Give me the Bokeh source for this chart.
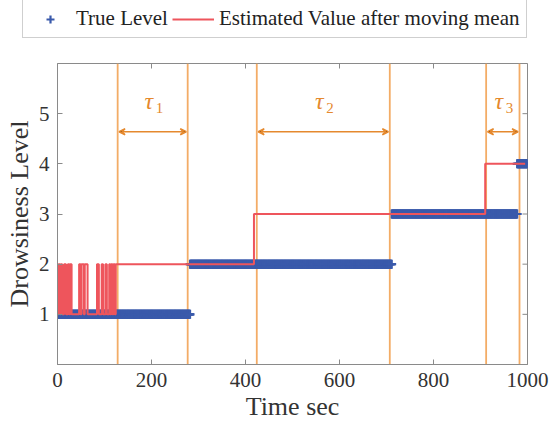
import numpy as np
from bokeh.plotting import figure
from bokeh.layouts import column
from bokeh.models import (Range1d, FixedTicker, Legend, LegendItem,
                          Arrow, VeeHead, ColumnDataSource)
from bokeh.core.properties import value
from bokeh.embed import file_html
from bokeh.resources import INLINE

# ---- data ----
true_start = [0, 282, 711, 978]
true_end = [282, 711, 978, 1000]
true_level = [1, 2, 3, 4]

red_times = [0, 2, 5, 7, 10, 14, 18, 22, 25, 27, 30, 46, 49, 51, 56, 58, 64,
             84, 88, 94, 97, 102, 105, 110, 112, 114, 117, 119, 122, 124,
             418, 910, 995]
red_values = [1, 2, 1, 2, 1, 2, 1, 2, 1, 2, 1, 2, 1, 2, 1, 2, 1,
              2, 1, 2, 1, 2, 1, 2, 1, 2, 1, 2, 1, 2,
              3, 4, 4]

vlines = [128, 277, 424, 707, 912, 983]
tau_start = [128, 424, 912]
tau_end = [277, 707, 983]
tau_names = ["1", "2", "3"]
arrow_y = 4.64
tau_label_y = 5.25

x_ticks = [0, 200, 400, 600, 800, 1000]
y_ticks = [1, 2, 3, 4, 5]
x_min, x_max = 0, 1000
y_min, y_max = 0, 6

series_names = ["True Level", "Estimated Value after moving mean"]

# ---- expand true level into per-second samples ----
t_true = []
v_true = []
for s, e, lv in zip(true_start, true_end, true_level):
    ts = np.arange(s, e + 1)
    t_true.extend(ts.tolist())
    v_true.extend([lv] * len(ts))

FONT = "Liberation Serif"
BLUE = "#3A5AAB"
RED = "#EE555C"
ORANGE_L = "#F3AC66"
ORANGE_D = "#E5892E"
GREY = "#8A8A8A"

TOP_H = 45

# ---------------- legend strip ----------------
lg = figure(width=549, height=TOP_H, output_backend="svg", toolbar_location=None,
            x_range=Range1d(0, 1), y_range=Range1d(0, 1),
            x_axis_type=None, y_axis_type=None,
            min_border=0, outline_line_color=None)
lg.frame_align = False
lg.grid.visible = False
# legend-only renderers (their single point lies outside the visible range)
d_blue = lg.scatter(x=[5], y=[5], marker="cross", size=9, line_width=2.2, line_color=BLUE)
d_red = lg.line(x=[5, 6], y=[5, 5], line_color=RED, line_width=2)
legend = Legend(items=[LegendItem(label=series_names[0], renderers=[d_blue]),
                       LegendItem(label=series_names[1], renderers=[d_red])],
                orientation="horizontal", location=(22, 7),
                label_text_font=FONT, label_text_font_size="21px",
                label_text_color="#222222",
                glyph_width=42, glyph_height=20, label_height=21,
                label_standoff=5, spacing=4, padding=6, margin=0,
                border_line_color="#A0A0A0", border_line_width=1,
                background_fill_color="white", background_fill_alpha=1)
lg.add_layout(legend, "center")

# ---------------- main chart ----------------
p = figure(width=549, height=427 - TOP_H, output_backend="svg", toolbar_location=None,
           x_range=Range1d(x_min, x_max), y_range=Range1d(y_min, y_max),
           min_border_left=57, min_border_right=22,
           min_border_top=63 - TOP_H, min_border_bottom=63)
p.frame_align = False
p.xgrid.visible = False
p.ygrid.visible = False
p.outline_line_color = GREY
p.background_fill_color = "white"

# vertical orange lines
p.segment(x0=vlines, y0=[y_min] * len(vlines), x1=vlines, y1=[y_max] * len(vlines),
          line_color=ORANGE_L, line_width=1.8)

# inward ticks on the top and right borders
p.scatter(x=x_ticks, y=[y_max] * len(x_ticks), marker="dash", angle=np.pi / 2,
          size=10, line_color=GREY, line_width=1)
p.scatter(x=[x_max] * len(y_ticks), y=y_ticks, marker="dash",
          size=10, line_color=GREY, line_width=1)

# true level markers
blue = p.scatter(t_true, v_true, marker="cross", size=9, line_width=2.2,
                 line_color=BLUE)

# estimated value
red = p.step(red_times, red_values, mode="after", line_color=RED, line_width=2)

# tau arrows
for s, e in zip(tau_start, tau_end):
    p.add_layout(Arrow(x_start=s + 3, y_start=arrow_y, x_end=e - 3, y_end=arrow_y,
                       line_color=ORANGE_D, line_width=1.5,
                       start=VeeHead(size=6, line_color=ORANGE_D, line_width=1.5),
                       end=VeeHead(size=6, line_color=ORANGE_D, line_width=1.5)))

mids = [(s + e) / 2 for s, e in zip(tau_start, tau_end)]
src = ColumnDataSource(dict(x=mids, y=[tau_label_y] * 3, tau=["τ"] * 3, sub=tau_names))
p.text(x="x", y="y", text="tau", source=src, text_font=value(FONT),
       text_font_style="italic", text_font_size="24px", text_color=ORANGE_D,
       text_align="center", text_baseline="middle", x_offset=-4)
p.text(x="x", y="y", text="sub", source=src, text_font=value(FONT),
       text_font_size="15px", text_color=ORANGE_D,
       text_align="left", text_baseline="middle", x_offset=3, y_offset=7)

# axes
for ax in [p.xaxis[0], p.yaxis[0]]:
    ax.major_tick_in = 5
    ax.major_tick_out = 0
    ax.minor_tick_line_color = None
    ax.axis_line_color = GREY
    ax.major_tick_line_color = GREY
    ax.major_label_text_font = FONT
    ax.major_label_text_font_size = "21px"
    ax.major_label_text_color = "#333333"
    ax.axis_label_text_font = FONT
    ax.axis_label_text_font_size = "26px"
    ax.axis_label_text_font_style = "normal"
    ax.axis_label_text_color = "#333333"

p.xaxis.ticker = FixedTicker(ticks=x_ticks)
p.yaxis.ticker = FixedTicker(ticks=y_ticks)
p.xaxis.axis_label = "Time sec"
p.yaxis.axis_label = "Drowsiness Level"
p.xaxis.major_label_standoff = 8
p.yaxis.major_label_standoff = 8
p.xaxis.axis_label_standoff = 2
p.yaxis.axis_label_standoff = 2

layout = column(lg, p, spacing=0)
open("out.html", "w").write(file_html(layout, INLINE))
